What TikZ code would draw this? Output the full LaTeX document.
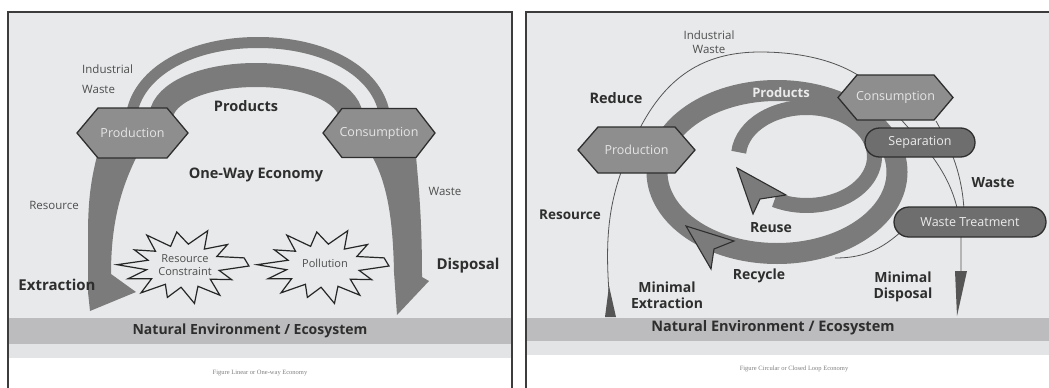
\documentclass[tikz,border=0pt]{standalone}
\usepackage{fontspec}
\setmainfont{Open Sans}
\newfontfamily\capfont{Liberation Serif}
\usetikzlibrary{shapes.misc}
\definecolor{panelbg}{HTML}{E8E9EA}
\definecolor{bandc}{HTML}{BCBCBE}
\definecolor{lowbg}{HTML}{E3E4E5}
\definecolor{flowc}{HTML}{7B7B7B}
\definecolor{hexfill}{HTML}{8E8E8E}
\definecolor{edgec}{HTML}{2E2E2E}
\definecolor{framec}{HTML}{3C3C3C}
\definecolor{txtc}{HTML}{2E2E2E}
\definecolor{ltxt}{HTML}{4E4E4E}
\definecolor{pillc}{HTML}{6E6E6E}
\definecolor{thinc}{HTML}{555555}
\definecolor{capc}{HTML}{808080}
\tikzset{
  hexshape/.style={fill=hexfill, draw=edgec, line width=1.3pt, line join=miter},
  hextext/.style={inner sep=0pt, text=white!90!black, font=\fontsize{12.5}{14}\selectfont},
  pillnode/.style={rounded rectangle, fill=pillc, draw=edgec, line width=1.3pt, text=white!92!black, font=\fontsize{12.5}{14}\selectfont, inner sep=0pt},
  boldlbl/.style={inner sep=0pt, text=txtc, font=\fontsize{14}{16}\selectfont\bfseries},
  reglbl/.style={inner sep=0pt, text=ltxt, font=\fontsize{11.5}{20}\selectfont},
  burst/.style={draw=black!85, line width=1.2pt, line join=miter, miter limit=20},
  burstlbl/.style={inner sep=0pt, text=ltxt, align=center, font=\fontsize{11}{13}\selectfont},
  bandlbl/.style={inner sep=0pt, text=txtc, font=\fontsize{14}{16}\selectfont\bfseries},
  caplbl/.style={inner sep=0pt, text=capc, font=\capfont\fontsize{6.5}{8}\selectfont},
  thinline/.style={draw=thinc, line width=0.8pt},
  headshape/.style={fill=flowc, draw=edgec, line width=1.1pt, line join=miter},
  framestyle/.style={draw=framec, line width=2pt}
}
\newcommand\hexnode[7]{%
  \filldraw[hexshape] ({#2-#4/2},{#3}) -- ({#2-#4/2+#6},{#3-#5/2}) -- ({#2+#4/2-#6},{#3-#5/2}) -- ({#2+#4/2},{#3}) -- ({#2+#4/2-#6},{#3+#5/2}) -- ({#2-#4/2+#6},{#3+#5/2}) -- cycle;
  \node[hextext] (#1) at (#2,#3) {#7};}
\newcommand\burstshape[4]{%
  \draw[burst] ({#1+#3},{#2})
  \foreach \angl/\radf in {12/0.56,26/0.82,40/0.54,54/0.95,67/0.58,80/1.0,93/0.56,106/0.86,119/0.55,132/0.95,145/0.58,158/0.9,170/0.56,182/1.0,196/0.55,210/0.85,223/0.57,236/0.98,250/0.55,264/0.9,278/0.58,292/1.0,306/0.55,320/0.88,334/0.57,347/0.95}
  { -- ({#1+\radf*#3*cos(\angl)},{#2+\radf*#4*sin(\angl)}) } -- cycle;}
\begin{document}
\begin{tikzpicture}[x=1pt,y=-1pt]
\useasboundingbox (0,0) rectangle (1049,388);
\fill[white] (0,0) rectangle (1049,388);
% ---------------- left panel ----------------
\fill[panelbg] (8,12) rectangle (512,318);
\fill[bandc] (8,318) rectangle (512,344);
\fill[lowbg] (8,344) rectangle (512,358);
\draw[framestyle] (8,390) -- (8,12) -- (512,12) -- (512,390);
% arch
\draw[flowc, line width=11pt] (132,112) .. controls (140,72) and (190,42.5) .. (258,42.5) .. controls (326,42.5) and (376,72) .. (384,112);
\draw[flowc, line width=24pt] (161,116) .. controls (164,92) and (205,75) .. (256,75) .. controls (307,75) and (348,92) .. (351,116);
\fill[flowc] (97,156) -- (137,156) .. controls (120,190) and (111,225) .. (111,274) -- (136,292) -- (90,311) -- (88,292) -- (88,235) .. controls (88,200) and (91,180) .. (97,156) -- cycle;
\fill[flowc] (372,156) -- (416,156) .. controls (419,190) and (422,220) .. (422,277) -- (429,281) -- (397,315) -- (394,272) .. controls (393,222) and (388,185) .. (372,156) -- cycle;
\hexnode{lprod}{132.5}{133}{111}{50}{21}{Production}
\hexnode{lcons}{379}{133}{112}{49}{19}{Consumption}
\burstshape{183}{266}{66}{38}
\burstshape{323}{266}{66}{38}
\node[burstlbl] (rc) at (185,265) {Resource\\Constraint};
\node[burstlbl] (poll) at (325,263) {Pollution};
\node[reglbl, anchor=west, align=left] (lind) at (82,79) {Industrial\\Waste};
\node[boldlbl, font=\fontsize{14.5}{16}\selectfont\bfseries] (lprodl) at (246,106) {Products};
\node[boldlbl, font=\fontsize{14.5}{16}\selectfont\bfseries] (oneway) at (256,175) {One-Way Economy};
\node[reglbl] (lres) at (54,205) {Resource};
\node[reglbl] (lwaste) at (445,191) {Waste};
\node[boldlbl, font=\fontsize{15}{17}\selectfont\bfseries] (lext) at (57,285) {Extraction};
\node[boldlbl, font=\fontsize{15}{17}\selectfont\bfseries] (ldisp) at (468,266) {Disposal};
\node[bandlbl] (lband) at (250,331) {Natural Environment / Ecosystem};
\node[caplbl] (lcap) at (260,373) {Figure Linear or One-way Economy};
% ---------------- right panel ----------------
\fill[panelbg] (526,12) rectangle (1049,318);
\fill[bandc] (526,318) rectangle (1049,341);
\fill[lowbg] (526,341) rectangle (1049,355);
\draw[framestyle] (526,390) -- (526,12) -- (1050,12);
% rings
\draw[flowc, line width=21pt] (777,172) ellipse[x radius=120, y radius=81.5];
\draw[flowc, line width=15pt] ({806.5+68*cos(185)},{156.5+49*sin(185)}) arc[start angle=185, end angle=478, x radius=68, y radius=49];
\filldraw[headshape] (737,168) -- (753,214) -- (760,199) -- (786,195) -- cycle;
\filldraw[headshape] (686,226) -- (711,269) -- (714,249) -- (734,241) -- cycle;
% thin flows
\draw[thinline] (609,292) .. controls (604,225) and (612,190) .. (632,145) .. controls (660,80) and (700,52) .. (760,52) .. controls (810,52) and (860,65) .. (885,100) .. controls (915,140) and (960,170) .. (961,240) -- (961,272);
\draw[thinline] (936,121) .. controls (952,150) and (962,175) .. (964,210);
\draw[thinline] (905,228) .. controls (880,252) and (860,258) .. (835,258);
\fill[thinc] (609,286) -- (605,317) -- (616,317) -- cycle;
\fill[thinc] (955,271) -- (967,271) -- (957,316) -- cycle;
\hexnode{rprod}{636.5}{150}{117}{46}{20}{Production}
\hexnode{rcons}{895.5}{97.5}{115}{45}{19}{Consumption}
\node[pillnode, minimum width=110pt, minimum height=29pt] (sep) at (920,142.5) {Separation};
\node[pillnode, minimum width=152pt, minimum height=30pt] (wt) at (970,222) {Waste Treatment};
\node[reglbl, align=center, font=\fontsize{11.5}{14}\selectfont] (rind) at (709,42) {Industrial\\Waste};
\node[boldlbl, font=\fontsize{14.5}{16}\selectfont\bfseries] (reduce) at (616,98) {Reduce};
\node[boldlbl, font=\fontsize{13.5}{16}\selectfont\bfseries] (rres) at (570,215) {Resource};
\node[boldlbl, text=white!92!black, font=\fontsize{13}{15}\selectfont\bfseries] (rprodl) at (781,93) {Products};
\node[boldlbl] (rwaste) at (993,183) {Waste};
\node[boldlbl] (reuse) at (771,228) {Reuse};
\node[boldlbl] (recyc) at (759,276) {Recycle};
\node[boldlbl, align=center] (minext) at (667,295) {Minimal\\Extraction};
\node[boldlbl, align=center] (mindis) at (903,287) {Minimal\\Disposal};
\node[bandlbl, font=\fontsize{14.5}{16}\selectfont\bfseries] (rband) at (773,328) {Natural Environment / Ecosystem};
\node[caplbl] (rcap) at (794,369) {Figure Circular or Closed Loop Economy};
\end{tikzpicture}
\end{document}
